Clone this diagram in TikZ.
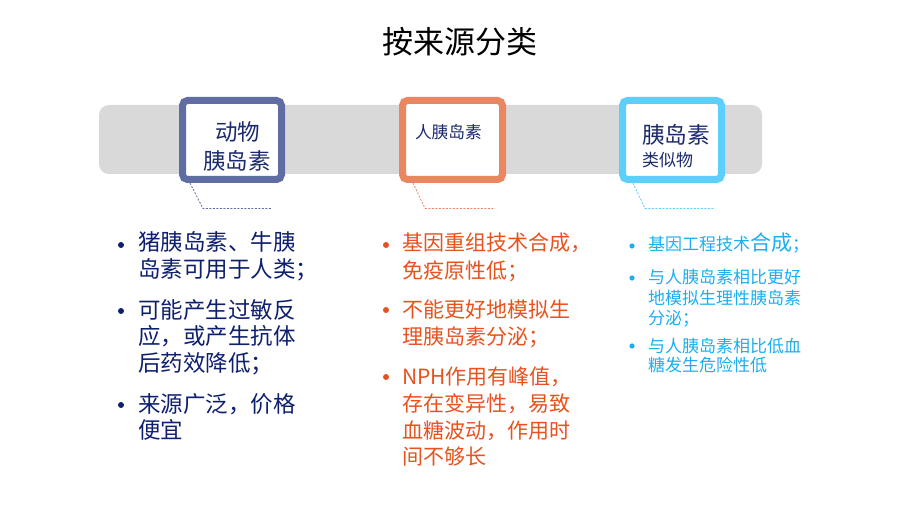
\documentclass[tikz,border=0pt]{standalone}
\usepackage{fontspec}
\setmainfont{Noto Sans CJK SC}
\newfontfamily\cjk{Noto Sans CJK SC}
\definecolor{barGray}{HTML}{D9D9D9}
\definecolor{navyBorder}{HTML}{5F6DA3}
\definecolor{orangeBorder}{HTML}{EA8660}
\definecolor{skyBorder}{HTML}{5CCFFB}
\definecolor{boxText}{HTML}{1B2A6B}
\definecolor{leftText}{HTML}{0E1F6E}
\definecolor{midText}{HTML}{E8521E}
\definecolor{rightText}{HTML}{1CAEEF}
\newcommand{\fs}[1]{\fontsize{#1}{#1}\selectfont}
\begin{document}
\begin{tikzpicture}[x=1pt,y=-1pt,
  catbox/.style={line width=7pt, rounded corners=5pt, fill=white},
  lead/.style={dashed, line width=0.8pt, dash pattern=on 2pt off 1.5pt},
  txt/.style={anchor=base west, inner sep=0pt, outer sep=0pt},
  dotmark/.style={circle, fill, inner sep=0pt, minimum size=#1}]
\useasboundingbox (0,0) rectangle (920,518);
\fill[white] (0,0) rectangle (920,518);
% title
\node[anchor=base, inner sep=0pt] (title) at (460,54) {\fs{31}按来源分类};
% gray bar
\fill[barGray, rounded corners=10pt] (99,105) rectangle (762,174);
% boxes
\draw[catbox, draw=navyBorder] (182.5,100.5) rectangle (281.5,179.5);
\draw[catbox, draw=orangeBorder] (402.5,100.5) rectangle (502.5,179.5);
\draw[catbox, draw=skyBorder] (622.5,100.5) rectangle (721.5,179.5);
\node[txt, text=boxText] (b1a) at (215,141) {\fs{22.5}动物};
\node[txt, text=boxText] (b1b) at (203,170) {\fs{22.5}胰岛素};
\node[txt, text=boxText] (b2a) at (415,139) {\fs{16.7}人胰岛素};
\node[txt, text=boxText] (b3a) at (642,143.5) {\fs{22.7}胰岛素};
\node[txt, text=boxText] (b3b) at (642,166.5) {\fs{17}类似物};
% dashed leaders
\coordinate (l1s) at (190,183); \coordinate (l1m) at (203,208.5); \coordinate (l1e) at (272,208.5);
\coordinate (l2s) at (413,183); \coordinate (l2m) at (425,208.5); \coordinate (l2e) at (495,208.5);
\coordinate (l3s) at (633,183); \coordinate (l3m) at (645,208.5); \coordinate (l3e) at (715,208.5);
\draw[lead, draw=navyBorder] (l1s) -- (l1m) -- (l1e);
\draw[lead, draw=orangeBorder] (l2s) -- (l2m) -- (l2e);
\draw[lead, draw=skyBorder] (l3s) -- (l3m) -- (l3e);
% left column
\begin{scope}[text=leftText]
\fill[leftText] (121,245) circle (3pt);
\fill[leftText] (121,311) circle (3pt);
\fill[leftText] (121,405) circle (3pt);
\node[txt] (a1) at (138,251) {\fs{22.5}猪胰岛素、牛胰};
\node[txt] (a2) at (138,278) {\fs{22.5}岛素可用于人类；};
\node[txt] (a3) at (138,318) {\fs{22.5}可能产生过敏反};
\node[txt] (a4) at (138,344) {\fs{22.5}应，或产生抗体};
\node[txt] (a5) at (138,371) {\fs{22.5}后药效降低；};
\node[txt] (a6) at (138,412) {\fs{22.5}来源广泛，价格};
\node[txt] (a7) at (138,438) {\fs{22.5}便宜};
\end{scope}
% middle column
\begin{scope}[text=midText]
\fill[midText] (386,245) circle (3pt);
\fill[midText] (386,310) circle (3pt);
\fill[midText] (386,377) circle (3pt);
\node[txt] (m1) at (402,251) {\fs{21}基因重组技术合成，};
\node[txt] (m2) at (402,279) {\fs{21}免疫原性低；};
\node[txt] (m3) at (402,317) {\fs{21}不能更好地模拟生};
\node[txt] (m4) at (402,344) {\fs{21}理胰岛素分泌；};
\node[txt] (m5) at (402,384) {\fs{21}NPH作用有峰值，};
\node[txt] (m6) at (402,411) {\fs{21}存在变异性，易致};
\node[txt] (m7) at (402,438) {\fs{21}血糖波动，作用时};
\node[txt] (m8) at (402,464) {\fs{21}间不够长};
\end{scope}
% right column
\begin{scope}[text=rightText]
\fill[rightText] (632,246) circle (2.6pt);
\fill[rightText] (632,278) circle (2.6pt);
\fill[rightText] (632,346) circle (2.6pt);
\node[txt] (r1) at (648,251) {\fs{17}基因工程技术{\fs{21}合成}；};
\node[txt] (r2) at (648,284) {\fs{17}与人胰岛素相比更好};
\node[txt] (r3) at (648,305) {\fs{17}地模拟生理性胰岛素};
\node[txt] (r4) at (648,324) {\fs{17}分泌；};
\node[txt] (r5) at (648,352) {\fs{17}与人胰岛素相比低血};
\node[txt] (r6) at (648,371) {\fs{17}糖发生危险性低};
\end{scope}
\end{tikzpicture}
\end{document}
